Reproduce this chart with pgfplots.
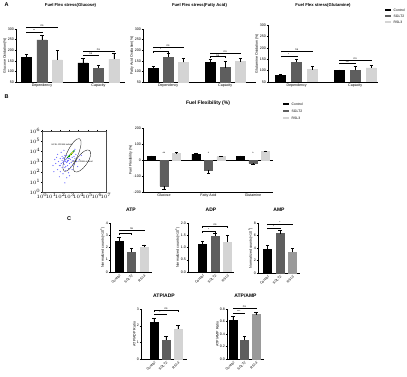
\documentclass[border=0pt]{standalone}
\usepackage{pgfplots}
\pgfplotsset{compat=1.18}
\usepackage{fontspec}
\setmainfont{Liberation Sans}

\definecolor{cCtrl}{HTML}{000000}
\definecolor{cSG}{HTML}{5E5E5E}
\definecolor{cRS}{HTML}{D4D4D4}
\definecolor{cRSm}{HTML}{9A9A9A}

\newcommand{\fs}[1]{\fontsize{#1}{#1}\selectfont}
\newcommand{\sig}[4]{%
  \draw[line width=0.3pt] ([yshift=-1.2pt]axis cs:#1,#3) -- (axis cs:#1,#3) -- (axis cs:#2,#3) -- ([yshift=-1.2pt]axis cs:#2,#3);
  \path (axis cs:#1,#3) -- node[above, inner sep=0.3pt, font=\fs{2.8}] {#4} (axis cs:#2,#3);
}

\pgfplotsset{
  base/.style={
    scale only axis, anchor=north west, axis lines*=left, clip mode=individual,
    tick align=outside, major tick length=1.3pt,
    every tick/.style={black, line width=0.3pt},
    axis line style={line width=0.4pt, black},
    tick label style={font=\fs{3.6}, inner sep=0.6pt},
    label style={font=\fs{3.6}, inner sep=0.5pt},
    title style={font=\bfseries\fs{4.2}, at={(0.5,1)}, anchor=south, inner sep=0pt},
    /pgf/number format/assume math mode=true,
    ybar,
  },
  eb/.style={error bars/.cd, y dir=plus, y explicit,
    error bar style={line width=0.35pt, black},
    error mark options={rotate=90, mark size=1.6pt, line width=0.35pt, black}},
  ebm/.style={error bars/.cd, y dir=minus, y explicit,
    error bar style={line width=0.35pt, black},
    error mark options={rotate=90, mark size=1.6pt, line width=0.35pt, black}},
  cpanel/.style={base, bar width=8pt, xtick={0,1,2},
    xticklabels={Control,SGLT2,RSL3},
    xticklabel style={rotate=45, anchor=north east, font=\fs{3.4}},
    title style={font=\bfseries\fs{5}, yshift=5pt}},
}

\begin{document}
\begin{tikzpicture}[x=1pt,y=1pt]
\fill[white] (0pt,0pt) rectangle (407pt,-377pt);
\useasboundingbox (0pt,0pt) rectangle (407pt,-377pt);

% panel letters
\node[font=\bfseries\fs{5.5}] at (6.5pt,-5pt) {A};
\node[font=\bfseries\fs{5.5}] at (6.5pt,-97pt) {B};
\node[font=\bfseries\fs{5.5}] at (69pt,-219pt) {C};

% ---------------- A1 Glucose
\begin{axis}[base, at={(16pt,-29pt)}, width=109pt, height=53pt,
  ymin=50, ymax=300, ytick={50,100,...,300},
  xmin=-0.46, xmax=1.47, xtick={0,1}, xticklabels={Dependency,Capacity},
  ylabel={Glucose Oxidation(\%)},
  title={Fuel Flex stress(Glucose)}, title style={yshift=15pt},
  bar width=10pt]
\addplot[fill=cCtrl, draw=cCtrl, bar shift=-15.5pt, eb] coordinates {(0,167) +- (0,14) (1,140) +- (0,22)};
\addplot[fill=cSG, draw=cSG, bar shift=0pt, eb] coordinates {(0,249) +- (0,24) (1,115) +- (0,14)};
\addplot[fill=cRS, draw=cRS, bar shift=15.5pt, eb] coordinates {(0,154) +- (0,45) (1,158) +- (0,28)};
\sig{-0.274}{0}{286}{**}
\sig{-0.274}{0.274}{309}{ns}
\sig{0.726}{1}{178}{ns}
\sig{0.726}{1.274}{196}{ns}
\end{axis}

% ---------------- A2 Fatty acid
\begin{axis}[base, at={(143pt,-29pt)}, width=113pt, height=53pt,
  ymin=50, ymax=300, ytick={50,100,...,300},
  xmin=-0.44, xmax=1.54, xtick={0,1}, xticklabels={Dependency,Capacity},
  ylabel={Fatty Acid Oxidation(\%)},
  title={Fuel Flex stress(Fatty Acid)}, title style={yshift=15pt},
  bar width=10pt]
\addplot[fill=cCtrl, draw=cCtrl, bar shift=-15pt, eb] coordinates {(0,115) +- (0,10) (1,143) +- (0,15)};
\addplot[fill=cSG, draw=cSG, bar shift=0pt, eb] coordinates {(0,167) +- (0,19) (1,118) +- (0,28)};
\addplot[fill=cRS, draw=cRS, bar shift=15pt, eb] coordinates {(0,142) +- (0,20) (1,146) +- (0,16)};
\sig{-0.263}{0}{194}{*}
\sig{-0.263}{0.263}{214}{ns}
\sig{0.737}{1}{170}{ns}
\sig{0.737}{1.263}{186}{ns}
\end{axis}

% ---------------- A3 Glutamine
\begin{axis}[base, at={(268pt,-25pt)}, width=110pt, height=57pt,
  ymin=50, ymax=300, ytick={50,100,...,300},
  xmin=-0.49, xmax=1.39, xtick={0,1}, xticklabels={Dependency,Capacity},
  ylabel={Glutamine Oxidation (\%)},
  title={Fuel Flex stress(Glutamine)}, title style={yshift=11pt},
  bar width=10pt]
\addplot[fill=cCtrl, draw=cCtrl, bar shift=-16pt, eb] coordinates {(0,78) +- (0,6) (1,100) +- (0,4)};
\addplot[fill=cSG, draw=cSG, bar shift=0pt, eb] coordinates {(0,137) +- (0,14) (1,101) +- (0,18)};
\addplot[fill=cRS, draw=cRS, bar shift=16pt, eb] coordinates {(0,104) +- (0,15) (1,112) +- (0,10)};
\sig{-0.271}{0}{163}{*}
\sig{-0.271}{0.271}{185}{ns}
\sig{0.729}{1}{134}{ns}
\sig{0.729}{1.271}{148}{ns}
\end{axis}

% legend A
\fill[cCtrl] (385pt,-9pt) rectangle (391pt,-11.5pt);
\fill[cSG] (385pt,-15pt) rectangle (391pt,-17.5pt);
\fill[cRS] (385pt,-21pt) rectangle (391pt,-23.5pt);
\node[anchor=west, font=\fs{3.4}, inner sep=0.5pt] at (393pt,-10.2pt) {Control};
\node[anchor=west, font=\fs{3.4}, inner sep=0.5pt] at (393pt,-16.2pt) {SGLT2};
\node[anchor=west, font=\fs{3.4}, inner sep=0.5pt] at (393pt,-22.2pt) {RSL3};

% ---------------- B flow cytometry
\begin{axis}[at={(42pt,-131pt)}, anchor=north west, scale only axis, width=64pt, height=61pt,
  xmin=0, xmax=7, ymin=0, ymax=6, xtick={0,...,7}, ytick={0,...,6},
  xticklabels={$10^0$,$10^1$,$10^2$,$10^3$,$10^4$,$10^5$,$10^6$,$10^7$},
  yticklabels={$10^0$,$10^1$,$10^2$,$10^3$,$10^4$,$10^5$,$10^6$},
  tick label style={font=\fs{1.8}, inner sep=0.4pt},
  tick align=outside, major tick length=1pt,
  every tick/.style={black, line width=0.25pt},
  axis line style={line width=0.3pt, black!70}, clip=false]
\addplot[only marks, mark=*, mark size=0.33pt, color=blue!55!white] coordinates {
(1.2,2.6)(1.4,3.2)(1.5,2.8)(1.6,3.4)(1.7,2.2)(1.8,3.0)(1.9,2.6)(1.9,1.5)(2.0,3.3)(2.0,2.0)
(2.1,2.8)(2.1,3.9)(2.2,3.5)(2.2,2.4)(2.3,1.8)(2.3,2.9)(2.4,3.0)(2.4,2.7)(2.4,4.1)(2.5,3.1)
(2.5,3.6)(2.5,0.9)(2.6,3.2)(2.6,2.5)(2.6,2.1)(2.7,3.3)(2.7,2.9)(2.7,1.4)(2.8,3.4)(2.8,2.6)
(2.8,3.1)(2.9,3.5)(2.9,3.1)(2.9,2.3)(3.0,3.6)(3.0,2.8)(3.0,1.6)(3.1,3.7)(3.1,3.2)(3.2,3.75)
(3.2,2.9)(3.2,2.5)(3.3,3.8)(3.3,3.4)(3.4,3.9)(3.4,3.1)(3.5,4.0)(3.5,3.5)(3.5,2.7)(3.6,3.3)
(3.7,3.7)(3.8,3.0)(3.9,2.5)(4.1,3.2)(2.3,3.3)(2.6,3.0)(2.7,3.6)(2.8,3.0)(2.9,3.3)(3.0,3.3)
(2.2,3.1)(2.4,3.4)(2.5,2.4)(1.7,3.7)(3.3,2.2)(3.6,4.2)(2.0,2.6)(2.9,1.9)(1.3,2.0)(4.3,3.6)};
\addplot[only marks, mark=*, mark size=0.4pt, color=green!60!black] coordinates {
(2.9,3.5)(3.0,3.6)(3.1,3.7)(3.2,3.8)(3.3,3.85)(3.4,3.95)(3.0,3.5)(3.2,3.7)(3.5,4.05)(2.8,3.4)};
\addplot[only marks, mark=*, mark size=0.35pt, color=yellow!80!orange] coordinates {(3.1,3.65)(3.25,3.78)(3.35,3.88)};
\draw[line width=0.3pt, rotate around={65:(axis cs:3.28,3.64)}] (axis cs:3.28,3.64) ellipse [x radius=18pt, y radius=5.5pt];
\draw[line width=0.3pt, rotate around={55:(axis cs:4.38,3.05)}] (axis cs:4.38,3.05) ellipse [x radius=13pt, y radius=5.5pt];
\node[font=\fs{2.2}, inner sep=0pt] at (axis cs:2.2,4.7) {HCSL CD36hi subset};
\node[font=\fs{2.2}, inner sep=0pt] at (axis cs:4.4,2.95) {HCSL CD36lo subset};
\end{axis}

% ---------------- B bar chart
\node[font=\bfseries\fs{5}] at (208pt,-103pt) {Fuel Flexibility (\%)};
\begin{axis}[base, at={(143pt,-128pt)}, width=130pt, height=64pt,
  ymin=-200, ymax=200, ytick={-200,-100,...,200},
  xmin=-0.47, xmax=2.45, xtick={0,1,2}, xticklabels={Glucose,Fatty Acid,Glutamine},
  ylabel={Fuel Flexibility (\%)}, bar width=8pt]
\draw[line width=0.4pt] (axis cs:-0.47,0) -- (axis cs:2.45,0);
\addplot[fill=cCtrl, draw=cCtrl, bar shift=-12.5pt, eb] coordinates {(0,23) +- (0,4) (1,37) +- (0,5) (2,21) +- (0,6)};
\addplot[fill=cSG, draw=cSG, bar shift=0pt, ebm] coordinates {(0,-163) +- (0,20) (1,-62) +- (0,18) (2,-21) +- (0,6)};
\addplot[fill=cRS, draw=cRS, bar shift=12.5pt, eb] coordinates {(0,42) +- (0,4) (1,21) +- (0,4) (2,52) +- (0,6)};
\node[font=\fs{3.4}, inner sep=0pt] at (axis cs:0,44) {**};
\node[font=\fs{3.4}, inner sep=0pt] at (axis cs:1,44) {*};
\node[font=\fs{3.4}, inner sep=0pt] at (axis cs:2,44) {*};
\end{axis}

% legend B
\fill[cCtrl] (283pt,-103pt) rectangle (289pt,-105.5pt);
\fill[cSG] (283pt,-110pt) rectangle (289pt,-112.5pt);
\fill[cRS] (283pt,-117pt) rectangle (289pt,-119.5pt);
\node[anchor=west, font=\fs{3.4}, inner sep=0.5pt] at (291pt,-104.2pt) {Control};
\node[anchor=west, font=\fs{3.4}, inner sep=0.5pt] at (291pt,-111.2pt) {SGLT2};
\node[anchor=west, font=\fs{3.4}, inner sep=0.5pt] at (291pt,-118.2pt) {RSL3};

% ---------------- C ATP
\begin{axis}[cpanel, at={(110pt,-223pt)}, width=42pt, height=49pt,
  ymin=0, ymax=4, ytick={0,1,...,4}, xmin=-0.72, xmax=2.64,
  ylabel={Normalized counts(×10\textsuperscript{4})}, title={ATP}]
\addplot[fill=cCtrl, draw=cCtrl, bar shift=0pt, eb] coordinates {(0,2.52) +- (0,0.34)};
\addplot[fill=cSG, draw=cSG, bar shift=0pt, eb] coordinates {(1,1.63) +- (0,0.33)};
\addplot[fill=cRS, draw=cRS, bar shift=0pt, eb] coordinates {(2,2.04) +- (0,0.19)};
\sig{0}{1}{3.15}{**}
\sig{0}{2}{3.42}{ns}
\end{axis}

% ---------------- C ADP
\begin{axis}[cpanel, at={(188pt,-223pt)}, width=46pt, height=49pt,
  ymin=0, ymax=2, ytick={0,0.5,...,2}, xmin=-1.16, xmax=2.52,
  yticklabel style={/pgf/number format/.cd, fixed, fixed zerofill, precision=1},
  ylabel={Normalized counts(×10\textsuperscript{4})}, title={ADP}]
\addplot[fill=cCtrl, draw=cCtrl, bar shift=0pt, eb] coordinates {(0,1.13) +- (0,0.14)};
\addplot[fill=cSG, draw=cSG, bar shift=0pt, eb] coordinates {(1,1.46) +- (0,0.13)};
\addplot[fill=cRS, draw=cRS, bar shift=0pt, eb] coordinates {(2,1.22) +- (0,0.30)};
\sig{0}{1}{1.66}{*}
\sig{0}{2}{1.86}{ns}
\end{axis}

% ---------------- C AMP
\begin{axis}[cpanel, at={(258pt,-223pt)}, width=42pt, height=50pt,
  ymin=0, ymax=8, ytick={0,2,...,8}, xmin=-0.76, xmax=2.6,
  ylabel={Normalized counts(×10\textsuperscript{4})}, title={AMP}]
\addplot[fill=cCtrl, draw=cCtrl, bar shift=0pt, eb] coordinates {(0,3.73) +- (0,0.67)};
\addplot[fill=cSG, draw=cSG, bar shift=0pt, eb] coordinates {(1,6.3) +- (0,0.5)};
\addplot[fill=cRSm, draw=cRSm, bar shift=0pt, eb] coordinates {(2,3.36) +- (0,0.64)};
\sig{0}{1}{7.2}{*}
\sig{0}{2}{7.8}{*}
\end{axis}

% ---------------- C ATP/ADP
\begin{axis}[cpanel, at={(141pt,-309pt)}, width=46pt, height=50pt,
  ymin=0, ymax=3, ytick={0,1,2,3}, xmin=-1.08, xmax=2.75,
  ylabel={ATP/ADP Ratio}, title={ATP/ADP}]
\addplot[fill=cCtrl, draw=cCtrl, bar shift=0pt, eb] coordinates {(0,2.19) +- (0,0.26)};
\addplot[fill=cSG, draw=cSG, bar shift=0pt, eb] coordinates {(1,1.15) +- (0,0.2)};
\addplot[fill=cRS, draw=cRS, bar shift=0pt, eb] coordinates {(2,1.79) +- (0,0.21)};
\sig{0}{1}{2.7}{*}
\sig{0}{2}{2.92}{ns}
\end{axis}

% ---------------- C ATP/AMP
\begin{axis}[cpanel, at={(227pt,-309pt)}, width=37pt, height=50pt,
  ymin=0, ymax=0.8, ytick={0,0.2,...,0.8}, xmin=-0.52, xmax=2.7,
  yticklabel style={/pgf/number format/.cd, fixed, fixed zerofill, precision=1},
  ylabel={ATP/AMP Ratio}, title={ATP/AMP}]
\addplot[fill=cCtrl, draw=cCtrl, bar shift=0pt, eb] coordinates {(0,0.62) +- (0,0.06)};
\addplot[fill=cSG, draw=cSG, bar shift=0pt, eb] coordinates {(1,0.30) +- (0,0.07)};
\addplot[fill=cRSm, draw=cRSm, bar shift=0pt, eb] coordinates {(2,0.71) +- (0,0.04)};
\sig{0}{1}{0.74}{***}
\sig{0}{2}{0.82}{ns}
\end{axis}
\end{tikzpicture}
\end{document}
